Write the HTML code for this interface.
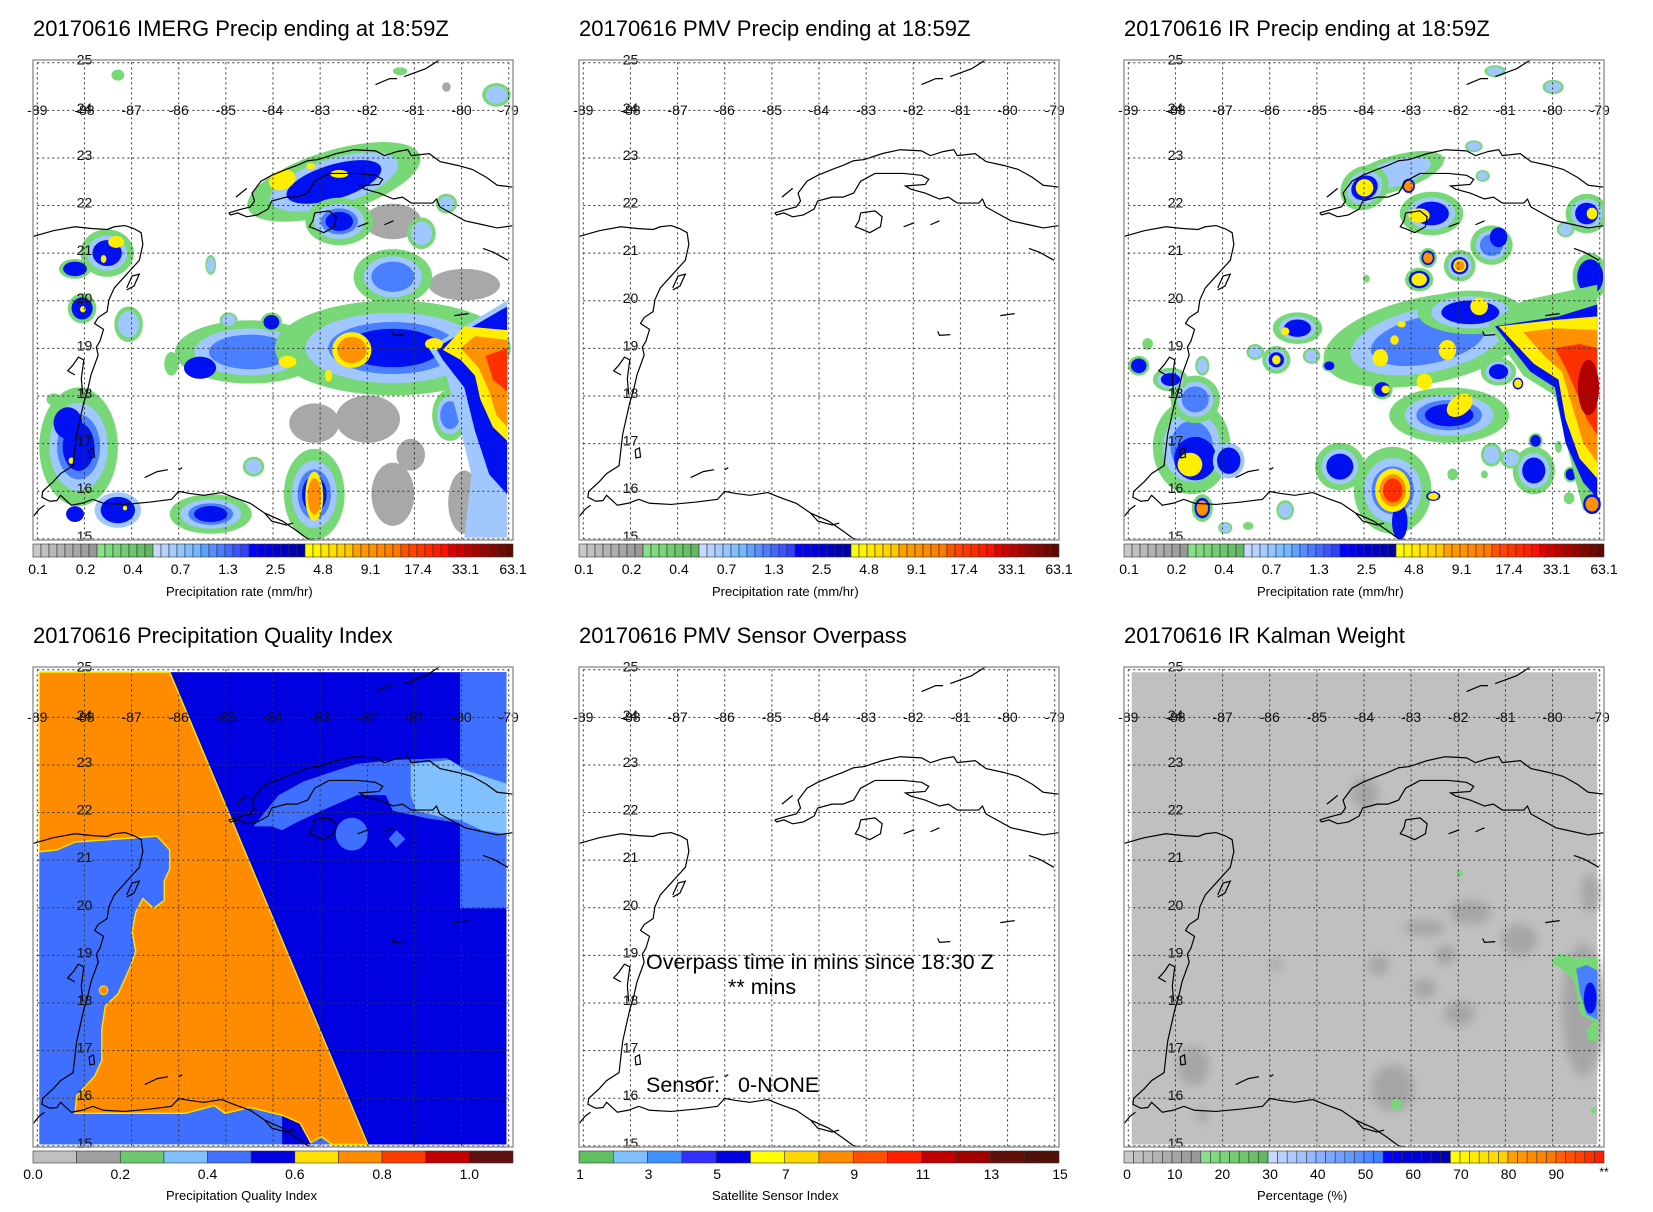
<!DOCTYPE html>
<html><head><meta charset="utf-8"><style>
html,body{margin:0;padding:0;background:#fff;}
svg{display:block;font-family:"Liberation Sans",sans-serif;}
</style></head><body>
<svg id="s" width="1653" height="1212" viewBox="0 0 1653 1212" xmlns="http://www.w3.org/2000/svg">
<defs><filter id="bl" x="-50%" y="-50%" width="200%" height="200%"><feGaussianBlur stdDeviation="12"/></filter></defs>
<g font-size="22" fill="#000">
<text x="33" y="36">20170616 IMERG Precip ending at 18:59Z</text>
<text x="579" y="36">20170616 PMV Precip ending at 18:59Z</text>
<text x="1124" y="36">20170616 IR Precip ending at 18:59Z</text>
<text x="33" y="643">20170616 Precipitation Quality Index</text>
<text x="579" y="643">20170616 PMV Sensor Overpass</text>
<text x="1124" y="643">20170616 IR Kalman Weight</text>
</g>
<g font-size="13" fill="#000">
<text x="166" y="596">Precipitation rate (mm/hr)</text>
<text x="712" y="596">Precipitation rate (mm/hr)</text>
<text x="1257" y="596">Precipitation rate (mm/hr)</text>
<text x="166" y="1200">Precipitation Quality Index</text>
<text x="712" y="1200">Satellite Sensor Index</text>
<text x="1257" y="1200">Percentage (%)</text>
</g>
<g id="dyn"></g>
<g font-size="21.5" fill="#000">
<text x="646" y="969">Overpass time in mins since 18:30 Z</text>
<text x="728" y="994">** mins</text>
<text x="646" y="1092">Sensor:&#160;&#160; 0-NONE</text>
</g>
</svg>
<script>
const LONS=["-89","-88","-87","-86","-85","-84","-83","-82","-81","-80","-79"];
const LATS=["25","24","23","22","21","20","19","18","17","16","15"];
const P=[{x:33,y:60,w:480,h:480},{x:579,y:60,w:480,h:480},{x:1124,y:60,w:480,h:480},
{x:33,y:667,w:480,h:480},{x:579,y:667,w:480,h:480},{x:1124,y:667,w:480,h:480}];
const C={gr:'#a8a8a8',g:'#78d878',lb:'#a0c8ff',mb:'#4a80ff',b:'#0010f0',db:'#0000b0',y:'#ffee00',o:'#ff9000',r:'#ff3000',dr:'#b00000'};
let out='';
function hex(c){return [1,3,5].map(i=>parseInt(c.substr(i,2),16));}
function lerp(a,b,n){const A=hex(a),B=hex(b),r=[];for(let i=0;i<n;i++){const t=n==1?0:i/(n-1);r.push('rgb('+A.map((v,k)=>Math.round(v+(B[k]-v)*t)).join(',')+')');}return r;}
let defs='';
P.forEach((p,i)=>{defs+=`<clipPath id="c${i}"><rect x="${p.x+1}" y="${p.y+1}" width="${p.w-2}" height="${p.h-2}"/></clipPath>`;});
out+='<defs>'+defs+'</defs>';
const Z1=[0,0,560/1568,620/1568], Z5=[1100,0,553/1568,620/1568], Z4=[0,600,560/1568,612/1568], Z2=[1100,600,553/1568,612/1568];
function zg(z,content,clip){return `<g clip-path="url(#${clip})"><g transform="translate(${z[0]},${z[1]}) scale(${z[2]},${z[3]})">${content}</g></g>`;}
function blobs(list){let s='';list.forEach(b=>{let [x,y,rx,ry,lv,ang]=b;ang=ang||0;let k=1;
lv.forEach(l=>{s+=`<ellipse cx="${x}" cy="${y}" rx="${rx*k}" ry="${ry*k}" fill="${C[l]}" transform="rotate(${ang} ${x} ${y})"/>`;k*=0.74;});});return s;}
function poly(pts,fill,extra){return `<polygon points="${pts.map(p=>p[0]+','+p[1]).join(' ')}" fill="${fill}" ${extra||''}/>`;}
// ---- Panel 1 data
let d1='';
[[1100,1250,60,80],[1300,1270,45,80],[880,1070,70,50],[1300,720,100,40],[1100,560,80,45],[1030,1060,90,60],[1250,220,12,12],[1150,1150,40,40]].forEach(g=>{d1+=`<ellipse cx="${g[0]}" cy="${g[1]}" rx="${g[2]}" ry="${g[3]}" fill="#a8a8a8"/>`;});
d1+=blobs([[935,460,250,80,['g','lb','b'],-15],[1100,700,110,70,['g','lb','mb']],[950,560,95,60,['g','lb','mb','b']],
[700,890,210,80,['g','lb','mb']],[1100,880,330,120,['g','lb','mb','b']],[560,930,45,28,['b']],
[880,1250,85,115,['g','lb','mb','b','db']],[220,1130,110,150,['g','lb','mb','b']],[190,1070,40,40,['b']],
[300,640,75,60,['g','lb','b']],[230,780,40,38,['g','b']],[330,1290,65,45,['lb','b']],[590,1300,115,50,['g','lb','mb','b']],
[360,820,40,45,['g','lb']],[210,680,45,25,['g','b']],[1260,1050,50,65,['g','lb','mb']],[590,670,15,25,['g','lb']],
[330,190,18,14,['g']],[1390,240,40,30,['g','lb']],[1120,180,20,10,['g']],[1250,515,30,25,['g','lb']],[1180,590,40,40,['g','lb']],
[710,1180,30,25,['g','lb']],[640,810,25,20,['g','lb']],[760,815,30,25,['g','b']],[480,920,20,30,['g']],[150,1010,20,15,['g']],[210,1300,25,20,['b']]]);
const e1=[[[[1200,880],[1420,760],[1420,1360],[1300,1360],[1320,1200],[1280,1050],[1250,950]],'lb'],
[[[1220,880],[1420,775],[1420,1250],[1370,1200],[1330,1090],[1300,980],[1240,910]],'b'],
[[[1240,885],[1300,825],[1420,835],[1420,1115],[1380,1080],[1345,1010],[1330,950],[1290,910]],'y'],
[[[1290,880],[1330,850],[1420,860],[1420,1080],[1390,1050],[1370,990],[1340,930]],'o'],
[[[1360,900],[1420,880],[1420,990],[1380,960]],'r']];
e1.forEach(e=>{d1+=poly(e[0],C[e[1]]);});
d1+=blobs([[985,885,55,45,['y','o']],[1215,870,25,15,['y']],[920,950,10,15,['y']],[805,915,25,15,['y']],[880,1255,25,62,['y','o']],
[790,455,38,25,['y'],-15],[950,440,25,10,['y']],[870,420,12,8,['y']],[325,612,22,15,['y']],[290,655,8,10,['y']],[232,782,8,8,['y']],[200,1165,8,8,['y']],[350,1285,6,6,['y']]]);
out+=zg(Z1,d1,'c0');
// ---- Panel 3 data
let d3='';
const e3=[[[[1100,820],[1200,760],[1410,720],[1410,1300],[1370,1290],[1330,1150],[1290,1000],[1200,950]],'g'],
[[[1120,825],[1300,800],[1410,770],[1410,1260],[1370,1220],[1320,1120],[1290,980],[1220,940]],'b'],
[[[1130,825],[1280,810],[1410,800],[1410,1210],[1360,1160],[1320,1060],[1300,960],[1230,920]],'y'],
[[[1200,840],[1290,830],[1410,835],[1410,1170],[1370,1120],[1340,1030],[1310,940],[1260,900]],'o'],
[[[1290,880],[1360,870],[1410,880],[1410,1100],[1380,1060],[1350,990],[1320,930]],'r']];
d3+=blobs([[930,860,300,110,['g','lb','mb'],-10],[1050,790,150,55,['g','lb','b']],[990,1050,170,70,['g','lb','mb','b']],
[830,440,150,45,['g','lb'],-15],[750,475,70,55,['g','lb','b'],-20],[940,540,90,55,['g','lb','b']],[1110,620,60,50,['g','lb','mb']],[1130,600,25,25,['b']],
[1060,370,25,15,['g','lb']],[1085,445,20,15,['g','lb']],[930,652,25,25,['g','b','o']],[1020,672,45,40,['g','lb','b','y','o']],[905,707,40,30,['g','b','y']],
[1380,540,60,50,['g','lb','b']],[1320,580,25,20,['g','lb']],[1390,700,50,60,['g','b']],
[560,830,70,40,['g','lb','b']],[500,910,40,35,['g','lb','b']],[440,890,25,20,['g','lb']],[600,900,25,20,['g','lb']],[650,925,20,15,['g','b']],
[1130,940,50,35,['g','lb','b']],[260,1130,110,120,['g','lb','mb']],[270,1160,60,55,['b']],[365,1165,45,45,['lb','b']],[270,1010,70,60,['g','lb','mb']],
[200,960,50,30,['g','lb','b']],[110,925,30,25,['g','b']],[135,870,15,15,['g']],[290,925,20,25,['g','lb']],
[290,1285,30,35,['g','b','o']],[355,1335,20,15,['g','lb']],[420,1330,15,10,['g']],[525,1290,25,25,['g','lb']],
[830,1240,110,110,['g','lb','mb','b']],[850,1320,22,45,['b']],[680,1180,70,60,['g','lb','b']],[945,1255,20,12,['b','y']],
[1235,1115,20,20,['g','b']],[1230,1190,60,60,['g','lb','b']],[1110,1150,30,30,['g','lb']],[1165,1160,30,25,['g','lb']],[1335,1200,20,20,['g','b']],
[1300,1130,10,15,['g']],[1000,1200,15,15,['g']],[1330,1260,15,15,['g']],[1090,1200,10,10,['g']],[1120,180,30,15,['g','lb']],[1285,220,30,18,['g','lb']],[755,705,10,10,['g']],[800,985,30,25,['g','b']]]);
e3.forEach(e=>{d3+=poly(e[0],C[e[1]]);});
d3+=`<ellipse cx="1385" cy="980" rx="30" ry="70" fill="#b00000"/>`;
d3+=blobs([[750,475,25,22,['y']],[875,470,18,18,['b','o']],[905,545,30,18,['y']],[1395,540,15,15,['y']],[525,838,12,10,['y']],[500,910,12,12,['y']],
[1075,775,25,22,['y']],[855,820,12,8,['y']],[835,860,12,12,['y']],[795,905,22,22,['y']],[985,885,25,25,['y']],[920,965,22,20,['y']],
[1020,1025,40,25,['y'],-30],[810,985,12,10,['y']],[1185,970,15,15,['b','y']],[255,1175,35,30,['y']],[830,1240,50,55,['y','o','r']],[1395,1275,25,25,['b','o']]]);
out+=zg(Z5,d3,'c2');
// ---- Panel 4
let d4=`<rect x="110" y="185" width="1308" height="1210" fill="#3f6fff"/>`;
d4+=poly([[790,1318],[840,1338],[870,1395],[790,1395]],'#0000e0');
d4+=poly([[110,185],[475,185],[1030,1395],[930,1395],[900,1375],[870,1390],[840,1340],[790,1320],[700,1300],[630,1315],[600,1295],[520,1315],[210,1315],[215,1270],[265,1220],[285,1180],[285,1100],[295,1040],[330,1010],[365,940],[380,900],[370,850],[380,800],[400,765],[430,790],[460,770],[460,720],[475,690],[475,640],[440,605],[210,620],[160,640],[110,645]],'#ff8c00','stroke="#ffe000" stroke-width="4"');
d4+=poly([[478,185],[1418,185],[1418,1395],[1032,1395]],'#0000e0');
d4+=poly([[1288,185],[1418,185],[1418,790],[1288,790]],'#3f6fff');
d4+=poly([[710,580],[780,500],[850,465],[930,440],[1000,420],[1100,410],[1250,405],[1300,430],[1400,460],[1418,480],[1418,605],[1350,600],[1280,570],[1200,560],[1100,540],[1080,500],[1000,500],[900,540],[830,570],[790,590],[760,580]],'#3f6fff');
d4+=`<ellipse cx="985" cy="600" rx="45" ry="42" fill="#3f6fff"/>`+poly([[1110,590],[1135,612],[1110,635],[1088,612]],'#3f6fff');
d4+=poly([[1150,420],[1260,410],[1300,435],[1418,470],[1418,600],[1350,590],[1290,565],[1230,555],[1165,540],[1150,500]],'#80c0ff');
d4+=`<ellipse cx="290" cy="1000" rx="12" ry="11" fill="#ff8c00" stroke="#ffe000" stroke-width="3"/>`;
out+=zg(Z4,d4,'c3');
// ---- Panel 6
let d6=`<rect x="90" y="185" width="1320" height="1210" fill="#c0c0c0"/><g filter="url(#bl)" fill="#a6a6a6">`;
[[830,1250,60,60],[750,495,40,40],[1190,870,50,40],[1370,1050,60,170],[1020,1060,45,30],[920,995,35,25],[265,1195,45,50],[790,935,30,25],[980,910,30,25],[500,935,15,15],[290,1320,15,20],[1050,800,60,30],[920,840,60,20],[1390,750,25,50]].forEach(g=>{d6+=`<ellipse cx="${g[0]}" cy="${g[1]}" rx="${g[2]}" ry="${g[3]}"/>`;});
d6+='</g>';
d6+=poly([[1280,930],[1300,905],[1340,915],[1410,915],[1410,1130],[1385,1130],[1380,1100],[1400,1080],[1360,1060],[1350,1000],[1340,970],[1300,940]],'#78d878');
d6+=poly([[1350,945],[1380,935],[1410,950],[1410,1075],[1380,1062],[1362,1010]],'#4a80ff');
d6+=`<ellipse cx="1390" cy="1020" rx="18" ry="40" fill="#0010f0"/>`;
d6+=`<circle cx="1020" cy="700" r="9" fill="#78d878"/><circle cx="840" cy="1293" r="15" fill="#78d878"/><circle cx="1400" cy="1308" r="8" fill="#78d878"/>`;
out+=zg(Z2,d6,'c5');
// ---- coasts
const coast=[
[[92,600],[150,585],[210,575],[260,580],[300,582],[320,575],[350,572],[375,580],[395,590],[400,620],[390,660],[370,680],[350,700],[320,730],[305,760],[300,790],[275,805],[265,820],[290,835],[280,865],[270,880],[275,900],[255,950],[245,990],[235,1020],[225,1060],[215,1100],[210,1140],[205,1180],[170,1200],[150,1220],[120,1245],[118,1260],[140,1270],[160,1268],[170,1255],[200,1280],[230,1275],[260,1265],[290,1275],[350,1278],[420,1272],[480,1265],[500,1245],[530,1250],[570,1255],[620,1248],[660,1262],[700,1275],[740,1300],[790,1320],[830,1345],[860,1365],[880,1368]],
[[210,950],[190,940],[205,925],[220,905],[235,912],[228,960],[232,1000]],
[[640,540],[670,532],[700,525],[712,510],[705,490],[730,460],[760,445],[800,430],[830,420],[860,408],[890,405],[940,390],[990,380],[1050,383],[1075,395],[1110,385],[1140,380],[1150,395],[1200,390],[1230,410],[1280,420],[1320,430],[1360,450],[1390,470],[1435,475]],
[[1435,572],[1390,578],[1350,570],[1300,560],[1270,545],[1230,525],[1220,505],[1210,515],[1150,515],[1125,500],[1100,505],[1060,490],[1020,480],[1005,472],[1060,468],[1070,455],[1050,445],[1000,440],[920,440],[880,460],[860,490],[830,500],[800,500],[760,510],[750,530],[720,545],[690,550],[665,540],[645,545],[640,540]],
[[880,540],[920,535],[940,550],[935,575],[905,590],[880,580],[865,575],[875,560],[880,540]],
[[1050,215],[1090,200],[1110,200]],[[1130,195],[1190,175],[1230,152]],
[[1350,630],[1380,640],[1420,660]],[[1270,800],[1310,795]],[[1095,840],[1100,850],[1130,848]],
[[405,1210],[440,1195],[470,1190]],[[500,1190],[510,1185]],[[660,500],[690,478]],
[[355,730],[370,700],[390,695],[375,725],[355,735]],[[92,1310],[110,1290],[125,1280]],
[[250,1140],[262,1135],[265,1158],[252,1160],[250,1140]],[[740,1300],[760,1320],[800,1330],[820,1325]],[[1000,575],[1030,565]],[[1075,570],[1100,560]]];
let coastStr='';coast.forEach(c=>{coastStr+=`<polyline points="${c.map(p=>(p[0]/3-31).toFixed(1)+','+(p[1]/3-51).toFixed(1)).join(' ')}" fill="none" stroke="#000" stroke-width="1.2" vector-effect="non-scaling-stroke"/>`;});
function gridStr(){let s='';
for(let i=0;i<11;i++){const x=4+i*43.9;s+=`<line x1="${x}" y1="2" x2="${x}" y2="404" stroke="#333" stroke-width="1" stroke-dasharray="2,3" vector-effect="non-scaling-stroke"/>`;}
for(let j=0;j<11;j++){const y=2.3+j*40.17;s+=`<line x1="4" y1="${y}" x2="443" y2="${y}" stroke="#333" stroke-width="1" stroke-dasharray="2,3" vector-effect="non-scaling-stroke"/>`;}
return s;}
P.forEach((p,i)=>{const sx=p.w/447,sy=p.h/405;
out+=`<g transform="translate(${p.x},${p.y}) scale(${sx},${sy})">${gridStr()}${coastStr}</g>`;
let s='<g font-size="14" fill="#111" text-anchor="middle">';
for(let k=0;k<11;k++){const x=p.x+(4+k*43.9)*sx;s+=`<text x="${x.toFixed(1)}" y="${(p.y+42*sy+5).toFixed(1)}">${LONS[k]}</text>`;}
for(let j=0;j<11;j++){const y=(j==1)?p.y+42*sy+3:p.y+(2.3+j*40.17)*sy+2;s+=`<text x="${(p.x+48*sx).toFixed(1)}" y="${y.toFixed(1)}">${LATS[j]}</text>`;}
s+='</g>';out+=s;
out+=`<rect x="${p.x}" y="${p.y}" width="${p.w}" height="${p.h}" fill="none" stroke="#999" stroke-width="1.5"/>`;});
function bar(p,y,h,cols){let s='';const w=p.w/cols.length;cols.forEach((c,i)=>{s+=`<rect x="${p.x+i*w}" y="${y}" width="${w}" height="${h}" fill="${c}" stroke="#333" stroke-width="0.6"/>`;});return s;}
const prc=[].concat(lerp('#c8c8c8','#989898',8),lerp('#88e088','#60b860',7),lerp('#c8d8ff','#70b8ff',6),lerp('#60a0ff','#3040ff',6),lerp('#0000ff','#0000a8',7),lerp('#ffff00','#ffc800',6),lerp('#ffa000','#ff7800',6),lerp('#ff5000','#ff1000',6),lerp('#e00000','#600800',8));
const plab=["0.1","0.2","0.4","0.7","1.3","2.5","4.8","9.1","17.4","33.1","63.1"];
[0,1,2].forEach(k=>{const p=P[k];out+=bar(p,544,13,prc);out+='<g font-size="14" text-anchor="middle">';plab.forEach((l,i)=>{out+=`<text x="${p.x+5+i*(p.w-5)/10}" y="574">${l}</text>`;});out+='</g>';});
const pq=['#c0c0c0','#a0a0a0','#6cc86c','#80c0ff','#4070ff','#0000e0','#ffe000','#ff8c00','#ff3c00','#c00000','#601010'];
out+=bar(P[3],1151,12,pq);out+='<g font-size="14" text-anchor="middle">';["0.0","0.2","0.4","0.6","0.8","1.0"].forEach((l,i)=>{out+=`<text x="${33+i*2*480/11}" y="1179">${l}</text>`;});out+='</g>';
const ss=['#60c060','#80c0ff','#4090ff','#3030ff','#0000e0','#ffff00','#ffd700','#ff8c00','#ff5000','#ff2000','#c00000','#a00000','#601008','#501008'];
out+=bar(P[4],1151,12,ss);out+='<g font-size="14" text-anchor="middle">';["1","3","5","7","9","11","13","15"].forEach((l,i)=>{out+=`<text x="${580+i*2*480/14}" y="1179">${l}</text>`;});out+='</g>';
const kc=[].concat(lerp('#c8c8c8','#989898',8),lerp('#88e088','#60b860',7),lerp('#c8d8ff','#4080ff',12),lerp('#0000ff','#0000b0',7),lerp('#ffff00','#ffd000',6),lerp('#ffa000','#ff7800',5),lerp('#ff6000','#ff2000',5));
out+=bar(P[5],1151,12,kc);out+='<g font-size="14" text-anchor="middle">';["0","10","20","30","40","50","60","70","80","90"].forEach((l,i)=>{out+=`<text x="${1127+i*47.7}" y="1179">${l}</text>`;});out+=`<text x="1604" y="1176" font-size="12">**</text></g>`;
document.getElementById('dyn').innerHTML=out;
</script>
</body></html>
